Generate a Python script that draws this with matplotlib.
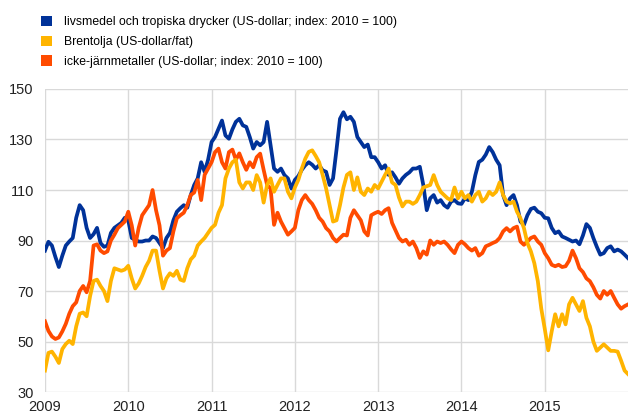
import numpy as np
import matplotlib.pyplot as plt
from matplotlib.patches import Patch

plt.rcParams['font.family'] = ['Liberation Sans', 'DejaVu Sans']

# readings twice a month (1st and 15th), Jan 2009 .. Jan 2016
start_year = 2009

food = [
    86, 89.5, 88, 83.5, 79.5, 84, 88, 89.6, 91, 99, 104, 102,
    95, 91, 92.5, 95, 89, 87.5, 88, 93, 95, 96, 97, 99,
    98, 91, 90.3, 89.6, 89.6, 90, 90, 91.6, 91, 89, 87, 91,
    93, 98, 101.4, 102.8, 104, 103, 108, 112, 114.6, 121, 117.2, 122,
    129, 131, 134.3, 137.5, 131.6, 130.3, 134, 137, 138.2, 135.6, 135, 131,
    126.4, 129, 127.7, 129, 137, 127.7, 118.5, 117.2, 118.5, 115.9, 114.6, 110.6,
    114, 115.5, 118, 119.8, 121, 120, 118.5, 119.8, 117.8, 117.2, 112, 114.6,
    126, 138.2, 140.8, 138, 139, 137, 131, 129, 127, 128, 123, 123,
    121, 118.5, 119.8, 116, 117, 115, 112.5, 114.6, 116, 117, 118.5, 118.5,
    119.2, 112, 102, 106.7, 108, 105, 106, 104, 103, 105.4, 106, 104.7,
    104.5, 106.7, 106, 109.3, 115.9, 121.1, 122, 124, 127, 125, 122, 119.8,
    108, 104, 106.7, 108, 104, 97.5, 96.2, 100, 102.5, 103, 101.4, 100.8,
    99, 98.8, 95, 92.9, 93.6, 91.6, 91, 90.3, 89.6, 90, 88.5, 92,
    96.5, 95, 91, 87.5, 84.4, 85, 87, 87.7, 85.7, 86.4, 85.7, 84.4,
    83,
]

brent = [
    38.5, 45.5, 46, 44, 41.5, 47, 49, 50.3, 49, 56, 61, 61.5,
    60, 68, 74, 74.5, 72, 70, 66, 74, 79, 78.5, 78, 78.5,
    80, 75, 71, 73, 76, 79.5, 82, 86, 86, 78, 71, 75,
    77, 76, 78, 74.5, 74, 79, 82.5, 84, 88, 89.6, 91, 93,
    95, 96.2, 101, 104, 114.6, 118.5, 121, 122, 113, 110.6, 113, 113,
    110, 115.9, 113, 105, 112, 114.6, 109.3, 112, 114.6, 114.6, 109.3, 106.7,
    111, 114, 118.5, 122.4, 125.1, 125.7, 123.5, 121, 116, 110.6, 104, 97.5,
    98, 104, 111, 116, 117, 110, 115, 109.3, 108, 110.6, 109.3, 112,
    110.6, 113.3, 116, 118.5, 113, 112, 107, 103.5, 105.4, 105.4, 104.5, 105.4,
    108, 111, 111.5, 112, 115.9, 112, 109.3, 108, 106.7, 106, 111, 106.7,
    109.3, 106.7, 108, 105.4, 108, 109.3, 105.4, 106.7, 109.3, 108, 109.3, 113,
    108, 105.4, 104.7, 105.4, 101.4, 98.8, 94.9, 89, 85.7, 81, 73.9, 63,
    55, 46.5, 54, 60.8, 56, 60.8, 56.8, 64.7, 67.3, 64.7, 62.1, 66,
    59.4, 56, 50, 46.3, 47.6, 48.9, 47.6, 46.3, 46.3, 46, 42.4, 38.5,
    37.1,
]

metals = [
    58, 54.2, 52, 51, 51.6, 54, 57, 61, 64, 65.5, 70, 72,
    69.5, 74, 88, 88.5, 86, 85, 85.7, 90, 92.3, 94.9, 96.2, 97.5,
    101.4, 96, 88, 95, 100, 102, 104, 110, 102, 96, 84, 86,
    87, 93.6, 98.8, 100, 101, 104, 108, 109, 114, 106, 116, 118.5,
    121, 125, 126.4, 121, 118.5, 125, 126, 122, 124.5, 121, 118, 121,
    119, 123, 124.4, 118, 112, 110.6, 96.2, 101, 97.5, 94.9, 92.3, 93.6,
    95, 102, 106, 108, 106, 104.5, 102, 99, 97.5, 94.9, 93.6, 91,
    89.6, 91, 92.3, 92, 99, 102, 100, 98, 93.6, 92, 100, 100.8,
    101.4, 100.5, 102, 102.8, 97, 94, 91, 89.6, 90.3, 88.3, 89.6, 87,
    83.1, 85.7, 84.4, 90, 88.3, 89.6, 89, 89.6, 88.3, 86.5, 85, 88.3,
    89.6, 88.5, 87, 86, 87, 84, 85, 87.7, 88.3, 89, 89.6, 91,
    93.6, 94.9, 93.6, 94.9, 95.5, 89.6, 88.3, 89.6, 91, 91.6, 89.6, 88.3,
    85, 83, 80.4, 79.8, 80.4, 79.5, 79.8, 82, 86, 83, 79, 77.5,
    75, 73.9, 71.5, 68.5, 67, 70, 68.5, 70, 67.3, 64.7, 63, 64,
    64.7,
]

labels = [
    'livsmedel och tropiska drycker (US-dollar; index: 2010 = 100)',
    'Brentolja (US-dollar/fat)',
    'icke-järnmetaller (US-dollar; index: 2010 = 100)',
]
colors = ['#003299', '#FFB400', '#FF4B00']
year_ticks = [2009, 2010, 2011, 2012, 2013, 2014, 2015]
value_ticks = [30, 50, 70, 90, 110, 130, 150]

x = start_year + np.arange(len(food)) / 24.0

fig = plt.figure(figsize=(6.29, 4.19), dpi=100)
ax = fig.add_axes([0.0715, 0.0644, 0.927, 0.7232])

ax.plot(x, food, color=colors[0], lw=2.7, zorder=3, solid_joinstyle='round')
ax.plot(x, metals, color=colors[2], lw=2.7, zorder=4, solid_joinstyle='round')
ax.plot(x, brent, color=colors[1], lw=2.7, zorder=5, solid_joinstyle='round')

ax.set_xlim(2009, 2016)
ax.set_ylim(30, 150)
ax.set_xticks(year_ticks)
ax.set_yticks(value_ticks)
ax.tick_params(length=0, labelsize=10.5, colors='#222222')
ax.tick_params(axis='x', pad=6)
ax.tick_params(axis='y', pad=8)
ax.grid(True, color='#d9d9d9', lw=1)
ax.set_axisbelow(True)
for s in ax.spines.values():
    s.set_visible(False)

handles = [Patch(facecolor=c, edgecolor='none') for c in colors]
fig.legend(handles, labels, loc='upper left', bbox_to_anchor=(0.053, 0.98),
           frameon=False, fontsize=8.8, handlelength=0.95, handleheight=0.95,
           handletextpad=0.95, labelspacing=0.6, borderaxespad=0.2)

fig.savefig('out.png', dpi=100)
